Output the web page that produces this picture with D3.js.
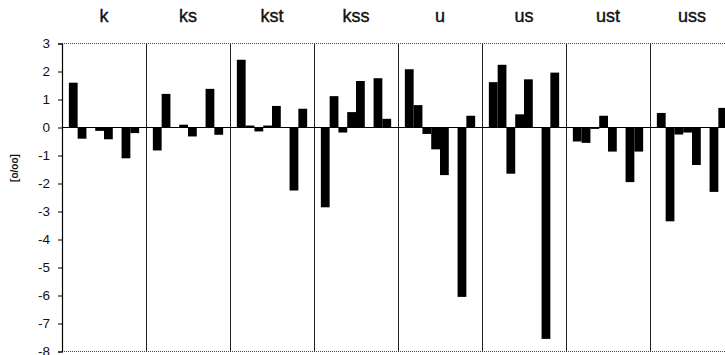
<!DOCTYPE html>
<html>
<head>
<meta charset="utf-8">
<script src="https://cdn.jsdelivr.net/npm/d3@7"></script>
<style>
  html, body { margin: 0; padding: 0; background: #fff; }
  svg { display: block; font-family: "Liberation Sans", Arial, sans-serif; }
</style>
</head>
<body>
<svg id="chart" width="725" height="355"></svg>
<script>
// Panel names (one category per panel)
const categories = ["k", "ks", "kst", "kss", "u", "us", "ust", "uss"];

// Deviation values [o/oo], eight bars per panel
const valK   = [1.6, -0.4, 0, -0.12, -0.42, 0, -1.1, -0.2];
const valKs  = [-0.82, 1.2, 0, 0.1, -0.32, 0, 1.38, -0.26];
const valKst = [2.42, 0.07, -0.14, 0.07, 0.77, 0, -2.25, 0.67];
const valKss = [-2.85, 1.12, -0.18, 0.55, 1.66, 0, 1.76, 0.31];
const valU   = [2.08, 0.8, -0.23, -0.78, -1.7, 0, -6.05, 0.42];
const valUs  = [1.62, 2.24, -1.65, 0.47, 1.72, 0, -7.55, 1.96];
const valUst = [-0.5, -0.55, -0.05, 0.42, -0.86, 0, -1.95, -0.86];
const valUss = [0.52, -3.35, -0.25, -0.18, -1.34, 0, -2.3, 0.7];

// Y axis ticks
const yTicks = [3, 2, 1, 0, -1, -2, -3, -4, -5, -6, -7, -8];
const yLabel = "[o/oo]";

const panelValues = [valK, valKs, valKst, valKss, valU, valUs, valUst, valUss];
const panels = categories.map((name, i) => ({ name, values: panelValues[i] }));

const svg = d3.select("#chart");
const plotLeft = 62, plotRight = 734, plotTop = 43.5, plotBottom = 351.5;

const x = d3.scaleBand().domain(categories).range([plotLeft, plotRight]).padding(0);
const xi = d3.scaleBand().domain(d3.range(8)).range([0, x.bandwidth()])
  .paddingInner(0).paddingOuter(0.78);
const y = d3.scaleLinear().domain([-8, 3]).range([plotBottom, plotTop]);

// Plot frame: dotted top and bottom edges
svg.append("line").attr("x1", plotLeft).attr("x2", plotRight).attr("y1", plotTop).attr("y2", plotTop)
  .attr("stroke", "#444").attr("stroke-width", 1).attr("stroke-dasharray", "1,1");
svg.append("line").attr("x1", plotLeft).attr("x2", plotRight).attr("y1", plotBottom).attr("y2", plotBottom)
  .attr("stroke", "#444").attr("stroke-width", 1).attr("stroke-dasharray", "1,1");

// Panel separators
svg.append("g").selectAll("line")
  .data(categories.slice(1))
  .join("line")
  .attr("x1", d => Math.round(x(d)) + 0.5)
  .attr("x2", d => Math.round(x(d)) + 0.5)
  .attr("y1", plotTop).attr("y2", plotBottom)
  .attr("stroke", "#222").attr("stroke-width", 1);

// Bars
const g = svg.append("g");
panels.forEach(p => {
  g.append("g")
    .attr("transform", `translate(${x(p.name)},0)`)
    .selectAll("rect")
    .data(p.values.map((v, i) => ({ v, i })))
    .join("rect")
    .attr("x", d => xi(d.i))
    .attr("width", xi.bandwidth())
    .attr("y", d => y(Math.max(0, d.v)))
    .attr("height", d => Math.abs(y(d.v) - y(0)))
    .attr("fill", "#000");
});

// Zero line
svg.append("line").attr("x1", plotLeft).attr("x2", plotRight)
  .attr("y1", y(0)).attr("y2", y(0))
  .attr("stroke", "#000").attr("stroke-width", 1.2);

// Y axis
const yAxis = d3.axisLeft(y).tickValues(yTicks).tickSize(4).tickPadding(8)
  .tickFormat(d3.format("d"));
const ya = svg.append("g").attr("transform", `translate(${plotLeft},0)`).call(yAxis);
ya.select(".domain").attr("stroke", "#000").attr("stroke-width", 1.2);
ya.selectAll(".tick line").attr("stroke", "#000");
ya.selectAll(".tick text")
  .attr("font-size", 13.5)
  .attr("fill", "#111")
  .text(d => d < 0 ? "-" + Math.abs(d) : d);

// Y axis title
svg.append("text")
  .attr("transform", "translate(18,168) rotate(-90)")
  .attr("text-anchor", "middle")
  .attr("font-size", 10)
  .attr("font-weight", "bold")
  .attr("fill", "#111")
  .text(yLabel);

// Panel titles (slightly heavier than regular weight)
svg.append("g").selectAll("text")
  .data(categories)
  .join("text")
  .attr("x", d => x(d) + x.bandwidth() / 2)
  .attr("y", 22)
  .attr("text-anchor", "middle")
  .attr("font-size", 18)
  .attr("fill", "#111")
  .attr("stroke", "#111")
  .attr("stroke-width", 0.4)
  .text(d => d);
</script>
</body>
</html>
